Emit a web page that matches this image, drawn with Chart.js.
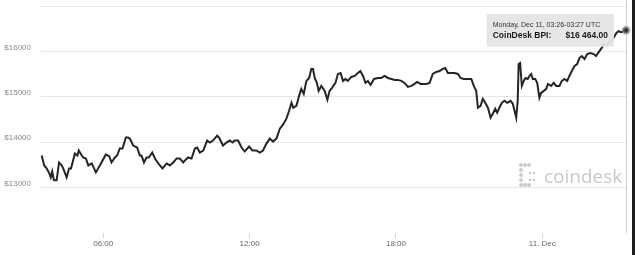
<!DOCTYPE html>
<html>
<head>
<meta charset="utf-8">
<script src="https://cdn.jsdelivr.net/npm/chart.js@4"></script>
<style>
  html, body { margin: 0; padding: 0; background: #fff; }
  #wrap { position: relative; width: 635px; height: 255px; }
</style>
</head>
<body>
<div id="wrap"><canvas id="c" width="635" height="255"></canvas></div>
<script>
// Hours since 00:00 UTC, Dec 10 (values > 24 are Dec 11)
const hours = [3.48,3.58,3.68,3.79,3.85,3.91,3.98,4.09,4.19,4.30,4.36,4.50,4.60,4.68,4.84,4.94,5.00,5.12,5.18,5.29,5.39,5.53,5.70,5.86,
6.11,6.25,6.34,6.48,6.57,6.68,6.79,6.93,7.02,7.09,7.23,7.39,7.50,7.57,7.67,7.78,7.87,8.01,8.12,8.29,8.43,8.60,8.73,8.87,
9.01,9.14,9.28,9.39,9.48,9.62,9.76,9.85,9.96,10.10,10.26,10.37,10.50,10.67,10.75,10.91,11.05,11.19,11.30,11.39,11.53,11.67,11.80,11.98,
12.12,12.28,12.42,12.55,12.69,12.83,12.96,13.10,13.24,13.37,13.51,13.62,13.72,13.79,13.92,14.03,14.12,14.22,14.33,14.44,14.53,14.60,14.67,14.76,14.83,14.94,
15.08,15.19,15.28,15.38,15.52,15.62,15.73,15.83,15.93,16.03,16.17,16.31,16.44,16.54,16.65,16.75,16.85,16.96,17.10,17.26,17.40,17.54,17.67,17.81,17.95,
18.08,18.22,18.35,18.49,18.63,18.76,18.87,19.01,19.10,19.24,19.38,19.51,19.65,19.79,19.92,20.02,20.13,20.27,20.40,20.54,20.65,20.78,20.95,
21.09,21.19,21.29,21.36,21.47,21.56,21.66,21.77,21.88,21.97,22.07,22.15,22.24,22.34,22.45,22.56,22.70,22.79,22.86,22.93,22.99,
23.03,23.09,23.16,23.24,23.31,23.40,23.47,23.54,23.61,23.71,23.79,23.88,23.95,24.06,24.16,24.23,24.36,24.47,24.57,24.70,24.80,24.91,
25.02,25.11,25.21,25.32,25.43,25.52,25.62,25.73,25.84,25.97,26.11,26.20,26.34,26.43,26.52,26.66,26.79,26.89,27.03,27.12,27.23,27.43];

// CoinDesk BPI (USD)
const prices = [13707,13488,13423,13313,13226,13357,13160,13160,13554,13488,13423,13226,13423,13423,13751,13707,13817,13707,13664,13642,13488,13532,13335,13488,
13729,13685,13554,13664,13707,13861,13861,14102,14102,14080,13926,13883,13707,13707,13554,13664,13664,13773,13642,13510,13423,13532,13488,13554,
13642,13642,13554,13620,13664,13642,13861,13883,13773,13817,14036,13992,14036,14145,14102,13926,13992,14036,13992,14036,14036,13883,13795,13904,
13817,13817,13773,13817,13970,14080,14014,14080,14299,14387,14518,14693,14868,14759,14802,15021,15175,15065,15350,15415,15613,15613,15415,15306,15131,15240,
15131,14934,15131,15197,15306,15503,15525,15350,15394,15350,15437,15459,15525,15569,15459,15306,15350,15262,15394,15415,15415,15459,15415,15394,15372,
15372,15350,15306,15219,15240,15284,15328,15284,15284,15284,15306,15503,15547,15569,15613,15634,15525,15525,15525,15503,15415,15394,15394,
15394,15240,15131,14759,14802,14956,14868,14759,14540,14627,14737,14649,14759,14868,14912,14868,14912,14846,14693,14540,14912,
15722,15744,15240,15350,15415,15394,15459,15503,15394,15394,15306,14977,15087,15131,15175,15284,15240,15306,15240,15240,15350,15394,
15350,15459,15569,15678,15722,15853,15897,15831,15941,15963,15941,15897,16007,16072,16160,16160,16226,16270,16401,16445,16423,16464];

const xTickHours = [6, 12, 18, 24];
const xTickLabels = ['06:00', '12:00', '18:00', '11. Dec'];
const yTickValues = [12000, 13000, 14000, 15000, 16000, 17000];
const yLabelled = [13000, 14000, 15000, 16000];
const xMin = 3.45, xMax = 27.43;
const seriesName = 'CoinDesk BPI:';
const tooltipTitle = 'Monday, Dec 11, 03:26-03:27 UTC';

const points = hours.map((h, i) => ({ x: h, y: prices[i] }));
const last = points.length - 1;

function fmtPrice(v) {
  const parts = v.toFixed(2).split('.');
  return '$' + parts[0].replace(/\B(?=(\d{3})+(?!\d))/g, ' ') + '.' + parts[1];
}

const decor = {
  id: 'decor',
  beforeDatasetsDraw(chart) {
    const ctx = chart.ctx;
    const a = chart.chartArea;
    ctx.save();
    ctx.fillStyle = '#c9c9c9';
    const dots = [[521,165],[525,165],[529,165],[521,170],[521,175],[521,180],[521,185],[525,185],[529,185],
                  [530,173],[534,173],[530,180],[534,180]];
    dots.forEach(([x, y], i) => {
      ctx.beginPath();
      ctx.arc(x, y, i < 9 ? 1.9 : 1.3, 0, Math.PI * 2);
      ctx.fill();
    });
    ctx.font = '19px "Open Sans", "Liberation Sans", sans-serif';
    ctx.textBaseline = 'alphabetic';
    ctx.textAlign = 'left';
    ctx.fillText('coindesk', 544, 183);
    ctx.strokeStyle = '#cfcfcf';
    ctx.lineWidth = 1;
    ctx.beginPath();
    ctx.moveTo(Math.round(a.right) + 0.5, 0);
    ctx.lineTo(Math.round(a.right) + 0.5, a.bottom);
    ctx.stroke();
    ctx.restore();
  },
  afterDraw(chart) {
    const ctx = chart.ctx;
    ctx.save();
    ctx.fillStyle = '#1e1e1e';
    ctx.fillRect(632, 0, 3, chart.height);
    ctx.restore();
  }
};

const chart = new Chart(document.getElementById('c'), {
  type: 'line',
  data: {
    datasets: [{
      label: seriesName,
      data: points,
      borderColor: '#252525',
      borderWidth: 2,
      tension: 0,
      fill: false,
      clip: 10,
      pointRadius: c => c.dataIndex === last ? 3 : 0,
      pointBackgroundColor: '#222',
      pointBorderColor: 'rgba(140,140,140,0.6)',
      pointBorderWidth: 3,
      pointHoverRadius: c => c.dataIndex === last ? 3 : 0,
      pointHoverBackgroundColor: '#222',
      pointHoverBorderColor: 'rgba(140,140,140,0.6)',
      pointHoverBorderWidth: 3
    }]
  },
  options: {
    responsive: false,
    animation: false,
    events: [],
    layout: { padding: { left: 0, right: 9, top: 2.5, bottom: 0 } },
    interaction: { mode: 'nearest', intersect: false },
    plugins: {
      legend: { display: false },
      tooltip: {
        enabled: true,
        xAlign: 'right',
        yAlign: 'center',
        caretSize: 0,
        caretPadding: 12,
        cornerRadius: 1,
        backgroundColor: 'rgba(229,229,229,0.95)',
        displayColors: false,
        padding: { top: 7, bottom: 6, left: 6, right: 6 },
        titleColor: '#333',
        titleFont: { family: '"Liberation Sans", Arial, sans-serif', size: 7, weight: 'normal' },
        titleMarginBottom: 1,
        bodyColor: '#1a1a1a',
        bodyFont: { family: '"Liberation Sans", Arial, sans-serif', size: 8.5, weight: 'bold' },
        callbacks: {
          title: () => tooltipTitle,
          label: c => seriesName + '      ' + fmtPrice(c.parsed.y)
        }
      }
    },
    scales: {
      x: {
        type: 'linear',
        min: xMin,
        max: xMax,
        afterBuildTicks: s => { s.ticks = xTickHours.map(v => ({ value: v })); },
        afterFit: s => { s.height = 22; s.paddingLeft = 0; s.paddingRight = 0; },
        grid: { drawOnChartArea: false, drawTicks: true, tickLength: 5, color: '#ccd6eb', lineWidth: 1 },
        border: { display: false },
        ticks: {
          padding: 1,
          maxRotation: 0,
          autoSkip: false,
          color: '#666',
          font: { family: '"Liberation Sans", Arial, sans-serif', size: 8 },
          callback: v => { const i = xTickHours.indexOf(v); return i >= 0 ? xTickLabels[i] : ''; }
        }
      },
      y: {
        min: 12000,
        max: 17000,
        afterBuildTicks: s => { s.ticks = yTickValues.map(v => ({ value: v })); },
        afterFit: s => { s.width = 41; s.paddingTop = 0; s.paddingBottom = 0; },
        grid: {
          drawTicks: false,
          color: c => (c.tick && c.tick.value === 12000) ? 'rgba(0,0,0,0)' : '#e6e6e6',
          lineWidth: 1
        },
        border: { display: false },
        ticks: {
          padding: 10,
          labelOffset: -4,
          color: '#8a8a8a',
          font: { family: '"Liberation Sans", Arial, sans-serif', size: 8 },
          callback: v => yLabelled.includes(v) ? '$' + v : ''
        }
      }
    }
  },
  plugins: [decor]
});

const act = [{ datasetIndex: 0, index: last }];
chart.setActiveElements(act);
chart.tooltip.setActiveElements(act, { x: 0, y: 0 });
chart.update('none');
</script>
</body>
</html>
